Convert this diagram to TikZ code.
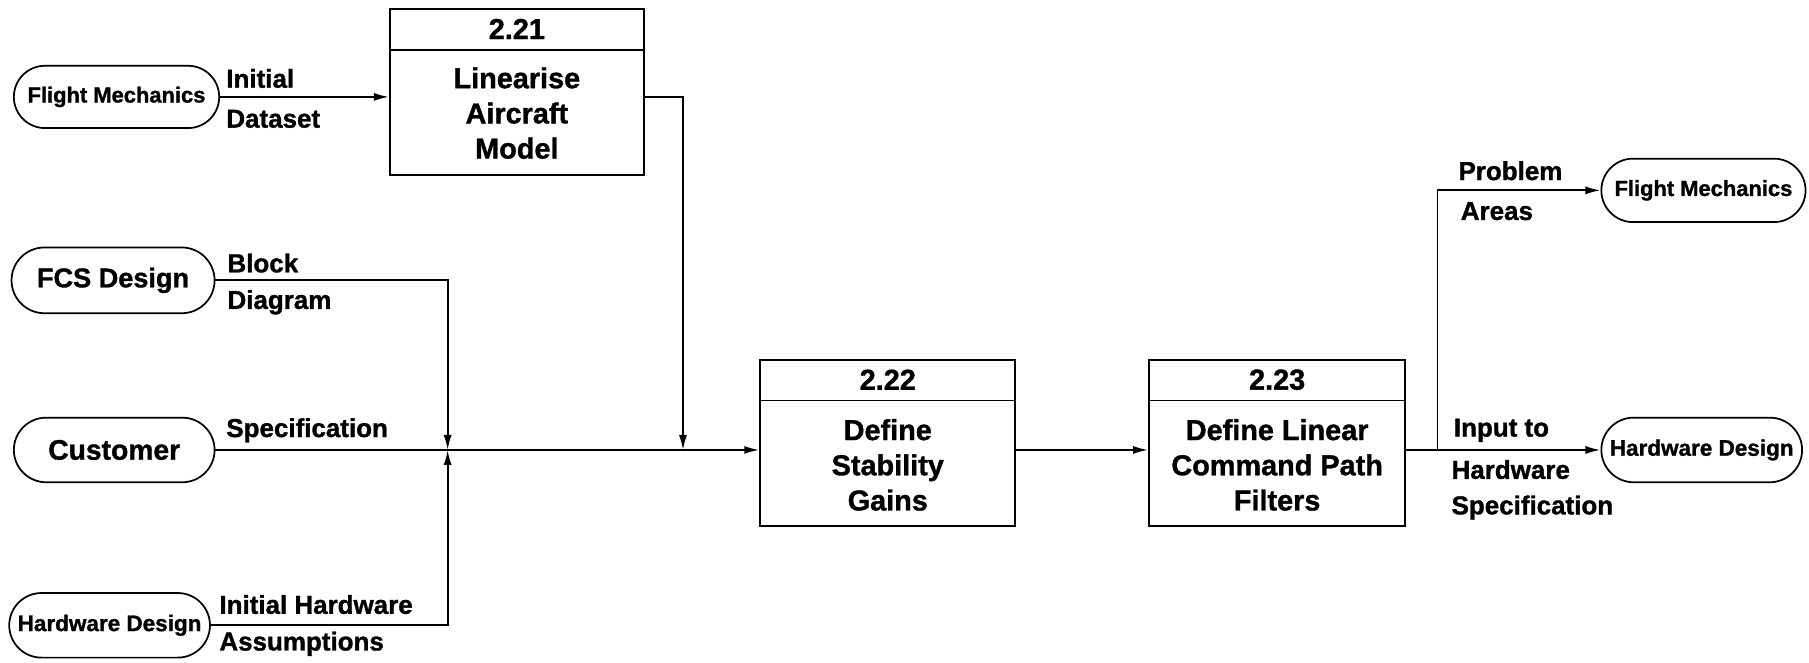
\documentclass[tikz,border=0pt]{standalone}
\usepackage{fontspec}
\setmainfont{Liberation Sans}[BoldFeatures={FakeBold=1.2}]
\usetikzlibrary{arrows.meta,shapes.misc,calc}
\begin{document}
\begin{tikzpicture}[x=1pt,y=-1pt,
  term/.style={draw, rounded rectangle, line width=1.5pt, minimum height=54pt, inner sep=0pt},
  smallterm/.style={term, font=\fontsize{19}{21}\selectfont\bfseries},
  bigterm/.style={term, font=\fontsize{24.5}{27}\selectfont\bfseries},
  procbox/.style={draw, line width=1.8pt, minimum width=220pt, minimum height=144pt, inner sep=0pt},
  divider/.style={line width=1.5pt},
  numtext/.style={font=\fontsize{25}{28}\selectfont\bfseries, inner sep=0pt},
  bodytext/.style={font=\fontsize{25}{30.5}\selectfont\bfseries, align=center, inner sep=0pt},
  flow/.style={line width=1.6pt, -{Latex[length=13pt,width=7pt]}},
  lbl/.style={font=\fontsize{22.5}{26}\selectfont\bfseries, anchor=west, inner sep=0pt},
]
\useasboundingbox (0,0) rectangle (1568,574);

% process boxes
\node[procbox] (p21) at (448,80) {};
\node[procbox, minimum width=221pt] (p22) at (769.5,384) {};
\node[procbox, minimum width=222pt] (p23) at (1107,384) {};
\foreach \b/\n in {p21/2.21, p22/2.22, p23/2.23}{
  \draw[divider] ([yshift=-36pt]\b.north west) -- ([yshift=-36pt]\b.north east);
  \node[numtext] (\b num) at ([yshift=-18pt]\b.north) {\n};
}
\node[bodytext] (p21t) at ([yshift=-18pt]p21.center) {Linearise\\Aircraft\\Model};
\node[bodytext] (p22t) at ([yshift=-19pt]p22.center) {Define\\Stability\\Gains};
\node[bodytext] (p23t) at ([yshift=-19pt]p23.center) {Define Linear\\Command Path\\Filters};

% terminals
\node[smallterm, minimum width=178pt] (fm1) at (101,84) {Flight Mechanics};
\node[bigterm, minimum width=176pt, minimum height=57pt, font=\fontsize{23.5}{26}\selectfont\bfseries] (fcs) at (98,243) {FCS Design};
\node[bigterm, minimum width=174pt, minimum height=56pt] (cust) at (99,390) {Customer};
\node[smallterm, minimum width=174pt, minimum height=56pt, font=\fontsize{19.5}{21}\selectfont\bfseries] (hd1) at (95,542) {Hardware Design};
\node[smallterm, minimum width=177pt, minimum height=55pt] (fm2) at (1476.5,165) {Flight Mechanics};
\node[smallterm, minimum width=174pt, minimum height=56pt, font=\fontsize{19.5}{21}\selectfont\bfseries] (hd2) at (1475,390) {Hardware Design};

% junctions
\coordinate (j1) at (592,390);
\coordinate (j2) at (388,390);
\coordinate (j3) at (1246,390);

% connectors
\draw[flow] (fm1.east) -- (fm1.east -| p21.west);
\draw[flow] (fm1.east -| p21.east) -| (j1);
\draw[flow] (fcs.east) -| (j2);
\draw[flow] (hd1.east) -| (j2);
\draw[flow] (cust.east) -- (cust.east -| p22.west);
\draw[flow] (j2 -| p22.east) -- (j2 -| p23.west);
\draw[flow] (j2 -| p23.east) -- (hd2.west);
\draw[flow] (j3) |- (fm2.west);

% labels
\node[lbl] (l1a) at (196,68) {Initial};
\node[lbl] (l1b) at (196,103) {Dataset};
\node[lbl] (l2a) at (197,228) {Block};
\node[lbl] (l2b) at (197,262) {Diagram};
\node[lbl] (l3) at (196,373) {Specification};
\node[lbl] (l4a) at (190,524) {Initial Hardware};
\node[lbl] (l4b) at (190,558) {Assumptions};
\node[lbl] (l5a) at (1264,148) {Problem};
\node[lbl] (l5b) at (1266,183) {Areas};
\node[lbl] (l6a) at (1260,373) {Input to};
\node[lbl] (l6b) at (1258,407) {Hardware};
\node[lbl] (l6c) at (1258,440) {Specification};
\end{tikzpicture}
\end{document}
